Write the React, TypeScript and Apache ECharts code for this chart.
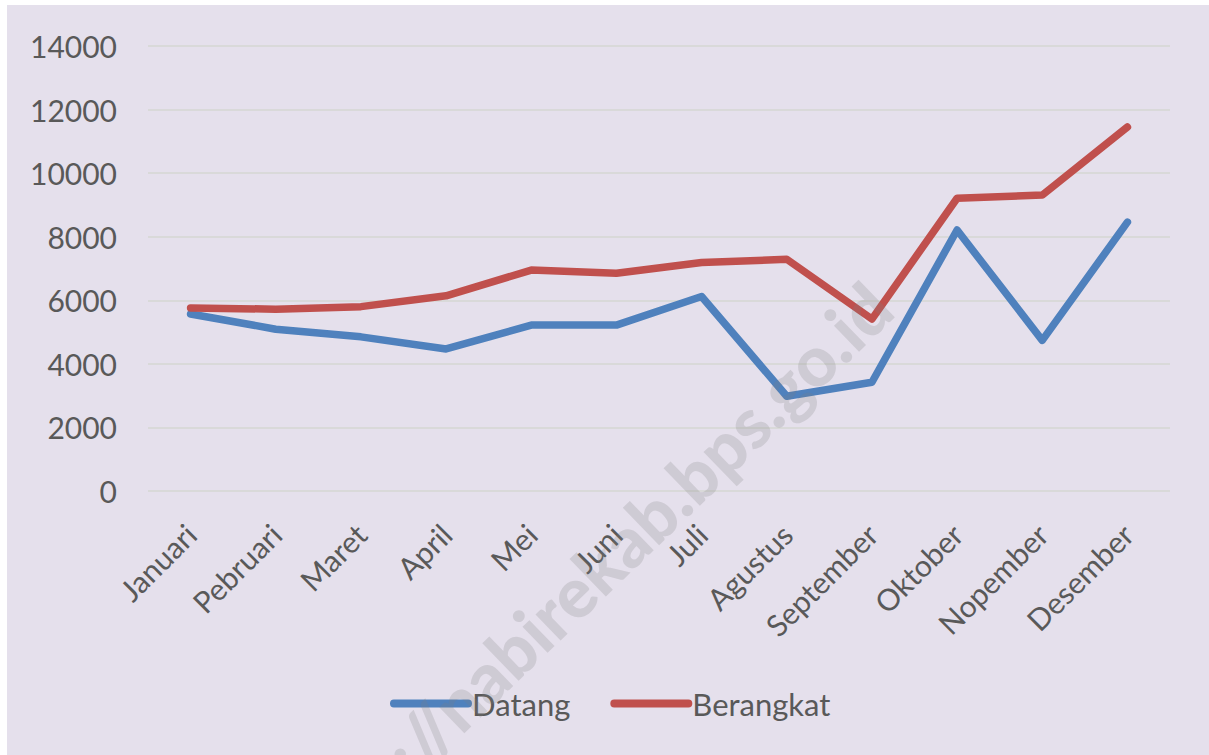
import React, { useEffect, useRef } from "react";
import * as echarts from "echarts";

const months = [
  "Januari", "Pebruari", "Maret", "April", "Mei", "Juni",
  "Juli", "Agustus", "September", "Oktober", "Nopember", "Desember",
];
const datang = [5570, 5090, 4850, 4470, 5220, 5220, 6120, 2980, 3420, 8210, 4740, 8460];
const berangkat = [5760, 5720, 5800, 6140, 6950, 6850, 7190, 7290, 5410, 9210, 9310, 11450];
const seriesNames = ["Datang", "Berangkat"];
const watermark = "http://nabirekab.bps.go.id";

const FONT = "Lato, 'Noto Sans', sans-serif";
const TEXT = "#595959";
const pill = "path://M4,0 L80,0 A4,4 0 0 1 80,8 L4,8 A4,4 0 0 1 4,0 Z";

export default function App() {
  const ref = useRef<HTMLDivElement>(null);
  useEffect(() => {
    if (!ref.current) return;
    const chart = echarts.init(ref.current, undefined, { renderer: "svg" });
    chart.setOption({
      animation: false,
      backgroundColor: "#E5E0EC",
      textStyle: { fontFamily: FONT },
      grid: { left: 141, right: 39, top: 41, bottom: 264, containLabel: false },
      legend: {
        data: seriesNames.map((n) => ({ name: n, icon: pill })),
        left: 378,
        top: 678,
        itemWidth: 82,
        itemHeight: 8,
        itemGap: 40,
        textStyle: { color: TEXT, fontSize: 31, fontFamily: FONT, padding: [0, 0, 0, -5] },
      },
      xAxis: {
        type: "category",
        data: months,
        boundaryGap: true,
        axisLine: { show: false },
        axisTick: { show: false },
        axisLabel: {
          rotate: 45,
          margin: 38,
          color: TEXT,
          fontSize: 30,
          fontFamily: FONT,
          interval: 0,
        },
      },
      yAxis: {
        type: "value",
        min: 0,
        max: 14000,
        interval: 2000,
        axisLine: { show: false },
        axisTick: { show: false },
        axisLabel: {
          color: TEXT,
          fontSize: 30,
          margin: 31,
          fontFamily: FONT,
          formatter: (v: number) => String(v),
        },
        splitLine: { lineStyle: { color: "#D9D9D9", width: 2 } },
      },
      series: [
        {
          name: seriesNames[0],
          type: "line",
          data: datang,
          symbol: "none",
          color: "#4F81BD",
          lineStyle: { width: 7.5, color: "#4F81BD", cap: "round", join: "round" },
        },
        {
          name: seriesNames[1],
          type: "line",
          data: berangkat,
          symbol: "none",
          color: "#C0504D",
          lineStyle: { width: 7.5, color: "#C0504D", cap: "round", join: "round" },
        },
      ],
      graphic: [
        {
          type: "text",
          x: 872,
          y: 290,
          rotation: (44 * Math.PI) / 180,
          z: 100,
          silent: true,
          style: {
            text: watermark,
            fill: "rgba(128,128,128,0.22)",
            font: `900 70px ${FONT}`,
            textAlign: "right",
            textVerticalAlign: "middle",
          },
        },
      ],
    });
    return () => chart.dispose();
  }, []);
  return (
    <div
      ref={ref}
      style={{ position: "absolute", left: 7, top: 5, width: 1202, height: 750 }}
    />
  );
}
